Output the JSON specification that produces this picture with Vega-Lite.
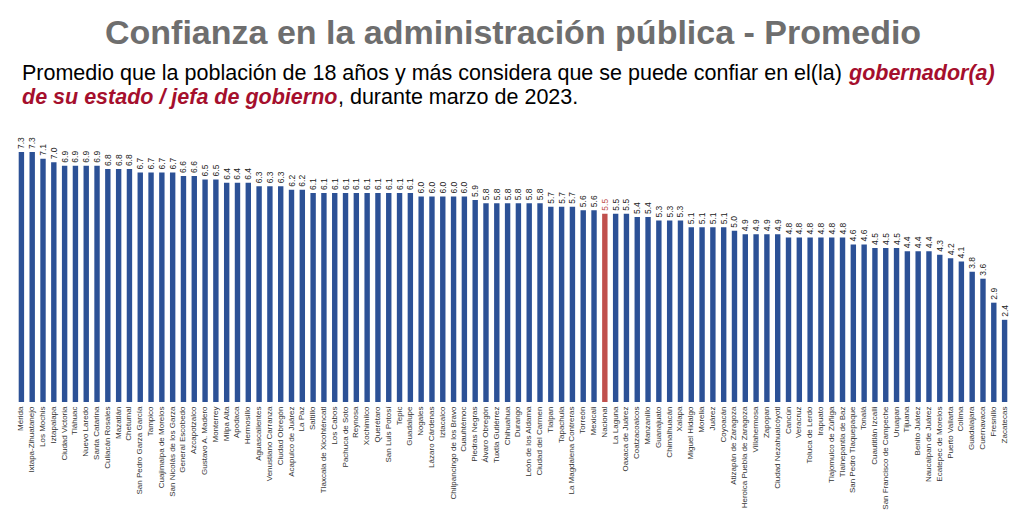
{
  "$schema": "https://vega.github.io/schema/vega-lite/v6.json",
  "padding": {"left": 16, "right": 0, "top": 16, "bottom": 0},
  "background": "white",
  "config": {"view": {"stroke": null}, "font": "Liberation Sans"},
  "title": {"text": "Confianza en la administración pública - Promedio", "anchor": "start", "dx": 89, "fontSize": 34, "font": "Liberation Sans", "fontWeight": "bold", "color": "#6e6e6e", "offset": 12},
  "spacing": 0,
  "vconcat": [
    {
      "spacing": 7,
      "hconcat": [
        {"width": 1, "height": 2, "data": {"values": []}, "mark": "point",
         "title": {"text": "Promedio que la población de 18 años y más considera que se puede confiar en el(la)", "anchor": "start", "dx": 6, "fontSize": 21.5, "font": "Liberation Sans", "fontWeight": "normal", "color": "#000000", "offset": 0}},
        {"width": 1, "height": 2, "data": {"values": []}, "mark": "point",
         "title": {"text": "gobernador(a)", "anchor": "start", "fontSize": 21.5, "font": "Liberation Sans", "fontWeight": "bold", "fontStyle": "italic", "color": "#A50F2D", "offset": 0}}
      ]
    },
    {
      "spacing": 0,
      "hconcat": [
        {"width": 1, "height": 2, "data": {"values": []}, "mark": "point",
         "title": {"text": "de su estado / jefa de gobierno", "anchor": "start", "dx": 6, "fontSize": 21.5, "font": "Liberation Sans", "fontWeight": "bold", "fontStyle": "italic", "color": "#A50F2D", "offset": 0}},
        {"width": 1, "height": 2, "data": {"values": []}, "mark": "point",
         "title": {"text": ", durante marzo de 2023.", "anchor": "start", "fontSize": 21.5, "font": "Liberation Sans", "fontWeight": "normal", "color": "#000000", "offset": 0}}
      ]
    },
    {
      "width": 994,
      "height": 292,
      "data": {"values": [
        {"ciudad": "Mérida", "valor": 7.3},
        {"ciudad": "Ixtapa-Zihuatanejo", "valor": 7.3},
        {"ciudad": "Los Mochis", "valor": 7.1},
        {"ciudad": "Iztapalapa", "valor": 7.0},
        {"ciudad": "Ciudad Victoria", "valor": 6.9},
        {"ciudad": "Tláhuac", "valor": 6.9},
        {"ciudad": "Nuevo Laredo", "valor": 6.9},
        {"ciudad": "Santa Catarina", "valor": 6.9},
        {"ciudad": "Culiacán Rosales", "valor": 6.8},
        {"ciudad": "Mazatlán", "valor": 6.8},
        {"ciudad": "Chetumal", "valor": 6.8},
        {"ciudad": "San Pedro Garza García", "valor": 6.7},
        {"ciudad": "Tampico", "valor": 6.7},
        {"ciudad": "Cuajimalpa de Morelos", "valor": 6.7},
        {"ciudad": "San Nicolás de los Garza", "valor": 6.7},
        {"ciudad": "General Escobedo", "valor": 6.6},
        {"ciudad": "Azcapotzalco", "valor": 6.6},
        {"ciudad": "Gustavo A. Madero", "valor": 6.5},
        {"ciudad": "Monterrey", "valor": 6.5},
        {"ciudad": "Milpa Alta", "valor": 6.4},
        {"ciudad": "Apodaca", "valor": 6.4},
        {"ciudad": "Hermosillo", "valor": 6.4},
        {"ciudad": "Aguascalientes", "valor": 6.3},
        {"ciudad": "Venustiano Carranza", "valor": 6.3},
        {"ciudad": "Ciudad Obregón", "valor": 6.3},
        {"ciudad": "Acapulco de Juárez", "valor": 6.2},
        {"ciudad": "La Paz", "valor": 6.2},
        {"ciudad": "Saltillo", "valor": 6.1},
        {"ciudad": "Tlaxcala de Xicohténcatl", "valor": 6.1},
        {"ciudad": "Los Cabos", "valor": 6.1},
        {"ciudad": "Pachuca de Soto", "valor": 6.1},
        {"ciudad": "Reynosa", "valor": 6.1},
        {"ciudad": "Xochimilco", "valor": 6.1},
        {"ciudad": "Querétaro", "valor": 6.1},
        {"ciudad": "San Luis Potosí", "valor": 6.1},
        {"ciudad": "Tepic", "valor": 6.1},
        {"ciudad": "Guadalupe", "valor": 6.1},
        {"ciudad": "Nogales", "valor": 6.0},
        {"ciudad": "Lázaro Cárdenas", "valor": 6.0},
        {"ciudad": "Iztacalco", "valor": 6.0},
        {"ciudad": "Chilpancingo de los Bravo", "valor": 6.0},
        {"ciudad": "Cuauhtémoc", "valor": 6.0},
        {"ciudad": "Piedras Negras", "valor": 5.9},
        {"ciudad": "Álvaro Obregón", "valor": 5.8},
        {"ciudad": "Tuxtla Gutiérrez", "valor": 5.8},
        {"ciudad": "Chihuahua", "valor": 5.8},
        {"ciudad": "Durango", "valor": 5.8},
        {"ciudad": "León de los Aldama", "valor": 5.8},
        {"ciudad": "Ciudad del Carmen", "valor": 5.8},
        {"ciudad": "Tlalpan", "valor": 5.7},
        {"ciudad": "Tapachula", "valor": 5.7},
        {"ciudad": "La Magdalena Contreras", "valor": 5.7},
        {"ciudad": "Torreón", "valor": 5.6},
        {"ciudad": "Mexicali", "valor": 5.6},
        {"ciudad": "Nacional", "valor": 5.5},
        {"ciudad": "La Laguna", "valor": 5.5},
        {"ciudad": "Oaxaca de Juárez", "valor": 5.5},
        {"ciudad": "Coatzacoalcos", "valor": 5.4},
        {"ciudad": "Manzanillo", "valor": 5.4},
        {"ciudad": "Guanajuato", "valor": 5.3},
        {"ciudad": "Chimalhuacán", "valor": 5.3},
        {"ciudad": "Xalapa", "valor": 5.3},
        {"ciudad": "Miguel Hidalgo", "valor": 5.1},
        {"ciudad": "Morelia", "valor": 5.1},
        {"ciudad": "Juárez", "valor": 5.1},
        {"ciudad": "Coyoacán", "valor": 5.1},
        {"ciudad": "Atizapán de Zaragoza", "valor": 5.0},
        {"ciudad": "Heroica Puebla de Zaragoza", "valor": 4.9},
        {"ciudad": "Villahermosa", "valor": 4.9},
        {"ciudad": "Zapopan", "valor": 4.9},
        {"ciudad": "Ciudad Nezahualcóyotl", "valor": 4.9},
        {"ciudad": "Cancún", "valor": 4.8},
        {"ciudad": "Veracruz", "valor": 4.8},
        {"ciudad": "Toluca de Lerdo", "valor": 4.8},
        {"ciudad": "Irapuato", "valor": 4.8},
        {"ciudad": "Tlajomulco de Zúñiga", "valor": 4.8},
        {"ciudad": "Tlalnepantla de Baz", "valor": 4.8},
        {"ciudad": "San Pedro Tlaquepaque", "valor": 4.6},
        {"ciudad": "Tonalá", "valor": 4.6},
        {"ciudad": "Cuautitlán Izcalli", "valor": 4.5},
        {"ciudad": "San Francisco de Campeche", "valor": 4.5},
        {"ciudad": "Uruapan", "valor": 4.5},
        {"ciudad": "Tijuana", "valor": 4.4},
        {"ciudad": "Benito Juárez", "valor": 4.4},
        {"ciudad": "Naucalpan de Juárez", "valor": 4.4},
        {"ciudad": "Ecatepec de Morelos", "valor": 4.3},
        {"ciudad": "Puerto Vallarta", "valor": 4.2},
        {"ciudad": "Colima", "valor": 4.1},
        {"ciudad": "Guadalajara", "valor": 3.8},
        {"ciudad": "Cuernavaca", "valor": 3.6},
        {"ciudad": "Fresnillo", "valor": 2.9},
        {"ciudad": "Zacatecas", "valor": 2.4}
      ]},
      "encoding": {
        "x": {"field": "ciudad", "type": "nominal", "sort": null, "title": null,
              "scale": {"paddingInner": 0.5, "paddingOuter": 0.25},
              "axis": {"labelAngle": -90, "labelAlign": "right", "labelBaseline": "middle", "labelFontSize": 8, "labelFont": "Liberation Sans", "labelColor": "#333333", "labelPadding": 4, "labelLimit": 200, "domain": false, "ticks": false}},
        "y": {"field": "valor", "type": "quantitative", "scale": {"domain": [0, 8.526]}, "axis": null}
      },
      "layer": [
        {"mark": {"type": "bar"},
         "encoding": {"color": {"condition": {"test": "datum.ciudad === 'Nacional'", "value": "#C0504D"}, "value": "#2C5196"}}},
        {"mark": {"type": "text", "angle": 270, "align": "left", "baseline": "middle", "dx": 3, "fontSize": 8.5, "font": "Liberation Sans"},
         "encoding": {"text": {"field": "valor", "type": "quantitative", "format": ".1f"},
                      "color": {"condition": {"test": "datum.ciudad === 'Nacional'", "value": "#C0504D"}, "value": "#222222"}}}
      ]
    }
  ]
}
